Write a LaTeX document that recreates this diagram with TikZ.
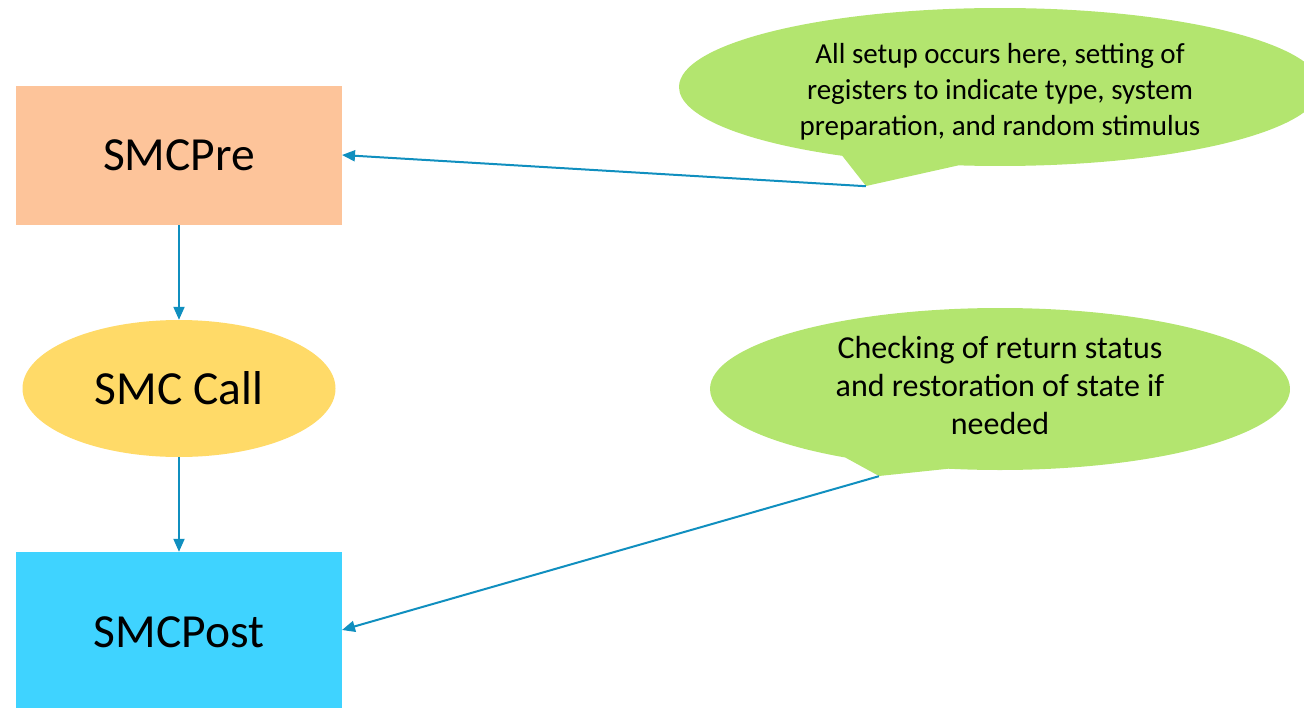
\documentclass[tikz,border=0pt]{standalone}
\usepackage{fontspec}
\setmainfont{Carlito}
\usetikzlibrary{arrows.meta,shapes.geometric,shapes.callouts}
\definecolor{peach}{HTML}{FDC49A}
\definecolor{sun}{HTML}{FFDA68}
\definecolor{sky}{HTML}{3FD3FF}
\definecolor{leaf}{HTML}{B3E56F}
\definecolor{link}{HTML}{108FBF}
\begin{document}
\begin{tikzpicture}[x=1pt,y=-1pt,
  box/.style={rectangle,inner sep=0pt,minimum width=326pt,font=\fontsize{47.5}{57}\selectfont},
  oval/.style={ellipse,inner sep=0pt,fill=sun,minimum width=313pt,minimum height=137pt,font=\fontsize{47.5}{57}\selectfont},
  note/.style={ellipse callout,fill=leaf,inner sep=0pt,align=center,callout pointer arc=22},
  conn/.style={draw=link,line width=2pt,-{Triangle[length=13pt,width=11pt]}}]
\useasboundingbox (0,0) rectangle (1304,707);
\node[box,fill=peach,minimum height=139pt] (pre) at (179,155.5) {SMCPre};
\node[oval] (call) at (179,388.5) {SMC Call};
\node[box,fill=sky,minimum height=160pt] (post) at (179,632) {SMCPost};
\node[note,font=\fontsize{29}{36}\selectfont,minimum width=642pt,minimum height=158pt,callout absolute pointer={(866,186)}] (n1) at (1000,87)
  {\rule{0pt}{30pt}All setup occurs here, setting of\\registers to indicate type, system\\preparation, and random stimulus};
\node[note,font=\fontsize{32}{38}\selectfont,minimum width=580pt,minimum height=162pt,callout absolute pointer={(879,476)}] (n2) at (1000,389)
  {Checking of return status\\and restoration of state if\\needed\rule[-8pt]{0pt}{0pt}};
\draw[conn] (pre) -- (call);
\draw[conn] (call) -- (post);
\draw[conn] (n1.pointer) -- (342,155);
\draw[conn] (n2.pointer) -- (342,630);
\end{tikzpicture}
\end{document}
